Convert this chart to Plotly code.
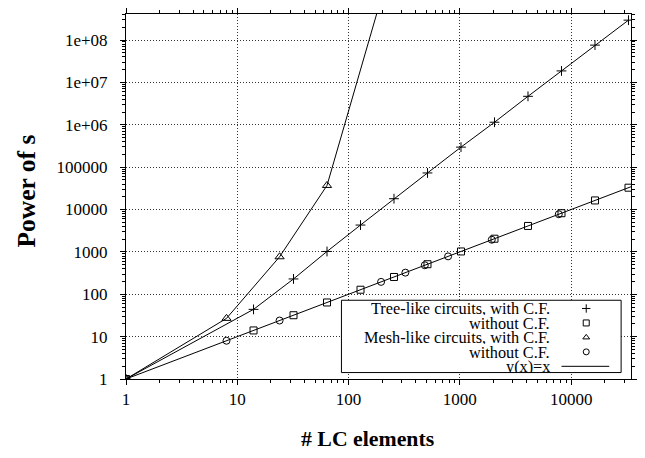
import plotly.graph_objects as go

# ---------------- data ----------------
tree_cf_x = [1, 14, 32, 64, 128, 256, 512, 1024, 2048, 4096, 8192, 16384, 32768]
tree_cf_y = [1, 44, 230, 1024, 4300, 18000, 73000, 297000, 1.15e6, 4.7e6, 1.87e7, 7.6e7, 2.95e8]

tree_nocf_x = [1, 14, 32, 64, 128, 256, 512, 1024, 2048, 4096, 8192, 16384, 32768]
tree_nocf_y = [1, 14, 32, 64, 128, 256, 512, 1024, 2048, 4096, 8192, 16384, 32768]

mesh_cf_x = [1, 8, 24, 64, 196]
mesh_cf_y = [1, 27, 767, 37000, 9.5e8]

mesh_nocf_x = [1, 8, 24, 196, 324, 484, 784, 1936, 7744]
mesh_nocf_y = [1, 8, 24, 196, 324, 484, 784, 1936, 7744]

ident_x = [1, 34500]
ident_y = [1, 34500]

x_tickvals = [1, 10, 100, 1000, 10000]
x_ticktext = ["1", "10", "100", "1000", "10000"]
y_tickvals = [1, 10, 100, 1000, 10000, 100000, 1e6, 1e7, 1e8]
y_ticktext = ["1", "10", "100", "1000", "10000", "100000", "1e+06", "1e+07", "1e+08"]

legend_labels = ["Tree-like circuits, with C.F.", "without C.F.",
                 "Mesh-like circuits, with C.F.", "without C.F.", "y(x)=x"]
legend_symbols = ["cross-thin-open", "square-open", "triangle-up-open", "circle-open"]

x_title = "# LC elements"
y_title = "Power of s"

# ---------------- styling ----------------
FONT = "Liberation Serif"
BLACK = "black"
W, H = 645, 458
L, R, T, B = 126, 8, 11, 78.5
PW = W - L - R
PH = H - T - B

x_minor = [m * 10 ** d for d in range(0, 5) for m in range(2, 10) if m * 10 ** d < 40000]
y_minor = [m * 10 ** d for d in range(0, 9) for m in range(2, 10) if m * 10 ** d < 5e8]

fig = go.Figure()

line_style = dict(color=BLACK, width=1)

fig.add_trace(go.Scatter(x=ident_x, y=ident_y, mode="lines", line=line_style,
                         showlegend=False, hoverinfo="skip"))
fig.add_trace(go.Scatter(x=tree_cf_x, y=tree_cf_y, mode="lines+markers", line=line_style,
                         marker=dict(symbol=legend_symbols[0], size=7, color=BLACK,
                                     line=dict(color=BLACK, width=1)),
                         showlegend=False))
fig.add_trace(go.Scatter(x=mesh_cf_x, y=mesh_cf_y, mode="lines+markers", line=line_style,
                         marker=dict(symbol=legend_symbols[2], size=8, color=BLACK,
                                     line=dict(color=BLACK, width=1)),
                         showlegend=False))
fig.add_trace(go.Scatter(x=tree_nocf_x, y=tree_nocf_y, mode="markers",
                         marker=dict(symbol=legend_symbols[1], size=7, color=BLACK,
                                     line=dict(color=BLACK, width=1)),
                         showlegend=False))
fig.add_trace(go.Scatter(x=mesh_nocf_x, y=mesh_nocf_y, mode="markers",
                         marker=dict(symbol=legend_symbols[3], size=7, color=BLACK,
                                     line=dict(color=BLACK, width=1)),
                         showlegend=False))

# ---------------- hand-made legend (overlay axes in plot-fraction units) ----------------
def fx(px):
    return (px - L) / PW

def fy(py):
    return (H - B - py) / PH

bx0, bx1, by0, by1 = fx(344), fx(627), fy(373), fy(300)
fig.add_trace(go.Scatter(x=[bx0, bx1, bx1, bx0, bx0], y=[by0, by0, by1, by1, by0],
                         xaxis="x2", yaxis="y2", mode="lines", fill="toself",
                         fillcolor="white", line=dict(color=BLACK, width=1),
                         showlegend=False, hoverinfo="skip"))
row_py = [308.3, 322.9, 337.5, 352.1, 366.7]
for i, sym in enumerate(legend_symbols):
    fig.add_trace(go.Scatter(x=[fx(591.7)], y=[fy(row_py[i])], xaxis="x2", yaxis="y2",
                             mode="markers",
                             marker=dict(symbol=sym, size=6, color=BLACK,
                                         line=dict(color=BLACK, width=1)),
                             showlegend=False, hoverinfo="skip"))
fig.add_trace(go.Scatter(x=[fx(566.7), fx(615)], y=[fy(row_py[4])] * 2, xaxis="x2", yaxis="y2",
                         mode="lines", line=dict(color=BLACK, width=1),
                         showlegend=False, hoverinfo="skip"))

annotations = []
for i, lab in enumerate(legend_labels):
    annotations.append(dict(text=lab, x=fx(556), y=fy(row_py[i]), xref="paper", yref="paper",
                            xanchor="right", yanchor="middle", showarrow=False,
                            height=14, valign="middle", borderpad=0,
                            font=dict(family=FONT, size=16.3, color=BLACK)))
annotations.append(dict(text="<b>" + x_title + "</b>", x=fx(370), y=fy(440),
                        xref="paper", yref="paper", xanchor="center", yanchor="middle",
                        showarrow=False, font=dict(family=FONT, size=21.8, color=BLACK)))
annotations.append(dict(text="<b>" + y_title + "</b>", x=fx(25), y=fy(190),
                        xref="paper", yref="paper", xanchor="center", yanchor="middle",
                        textangle=-90, showarrow=False,
                        font=dict(family=FONT, size=25.5, color=BLACK)))

axis_common = dict(type="log", showline=True, linecolor=BLACK, linewidth=1,
                   mirror="allticks", ticks="outside", ticklen=5, tickwidth=1,
                   tickcolor=BLACK, showgrid=True, gridcolor="#333333", griddash="1px,2px",
                   gridwidth=1, zeroline=False, tickmode="array",
                   tickfont=dict(family=FONT, size=17, color=BLACK))

fig.update_layout(
    width=W, height=H,
    margin=dict(l=L, r=R, t=T, b=B, pad=0),
    paper_bgcolor="white", plot_bgcolor="white",
    showlegend=False,
    xaxis=dict(axis_common, range=[0, 4.538], tickvals=x_tickvals, ticktext=x_ticktext,
               minor=dict(tickmode="array", tickvals=x_minor, ticks="outside",
                          ticklen=3, tickcolor=BLACK, showgrid=False),
               ticklabelstandoff=0),
    yaxis=dict(axis_common, range=[0, 8.615], tickvals=y_tickvals, ticktext=y_ticktext,
               minor=dict(tickmode="array", tickvals=y_minor, ticks="outside",
                          ticklen=3, tickcolor=BLACK, showgrid=False),
               ticklabelstandoff=9),
    xaxis2=dict(overlaying="x", range=[0, 1], visible=False, fixedrange=True),
    yaxis2=dict(overlaying="y", range=[0, 1], visible=False, fixedrange=True),
    annotations=annotations,
)

fig.write_html("out.html")
